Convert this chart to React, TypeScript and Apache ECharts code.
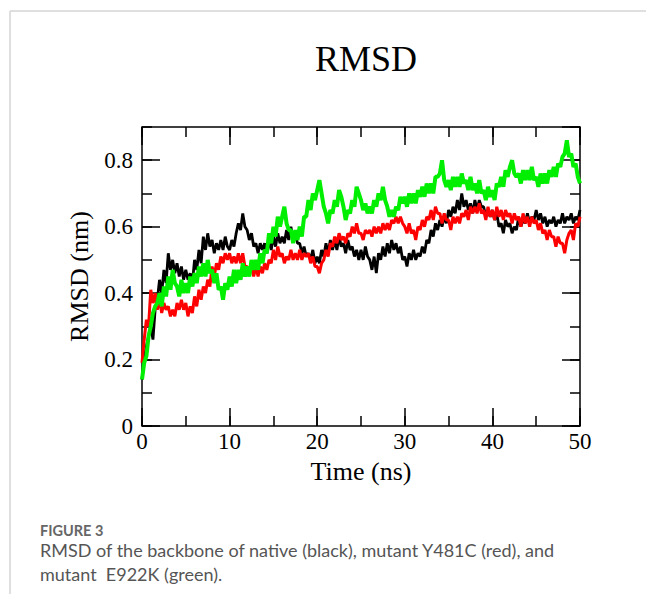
import React, { useEffect, useRef } from "react";
import * as echarts from "echarts";

// Time step between samples (ns)
const STEP = 0.25;

const xTicks = [0, 10, 20, 30, 40, 50];
const yTicks = [0, 0.2, 0.4, 0.6, 0.8];

// RMSD (nm) of native (black)
const nativeRmsd = [
  0.14, 0.20, 0.24, 0.27, 0.30, 0.26, 0.35, 0.38, 0.44, 0.40, 0.47, 0.43,
  0.52, 0.47, 0.50, 0.46, 0.49, 0.45, 0.48, 0.44, 0.47, 0.44, 0.46, 0.43,
  0.50, 0.47, 0.53, 0.49, 0.57, 0.53, 0.58, 0.54, 0.56, 0.52, 0.55, 0.53,
  0.56, 0.53, 0.57, 0.54, 0.53, 0.56, 0.54, 0.58, 0.61, 0.59, 0.64, 0.60,
  0.59, 0.56, 0.58, 0.54, 0.55, 0.52, 0.55, 0.53, 0.55, 0.52, 0.56, 0.53,
  0.57, 0.54, 0.58, 0.55, 0.57, 0.55, 0.59, 0.56, 0.60, 0.56, 0.58, 0.55,
  0.55, 0.52, 0.54, 0.51, 0.52, 0.50, 0.53, 0.49, 0.51, 0.49, 0.53, 0.51,
  0.55, 0.52, 0.56, 0.53, 0.56, 0.53, 0.57, 0.54, 0.55, 0.52, 0.56, 0.53,
  0.54, 0.51, 0.53, 0.50, 0.53, 0.50, 0.54, 0.51, 0.50, 0.47, 0.51, 0.46,
  0.52, 0.50, 0.54, 0.51, 0.55, 0.52, 0.56, 0.53, 0.55, 0.52, 0.54, 0.50,
  0.51, 0.48, 0.52, 0.50, 0.53, 0.50, 0.52, 0.51, 0.54, 0.52, 0.56, 0.55,
  0.59, 0.57, 0.61, 0.59, 0.62, 0.60, 0.63, 0.61, 0.65, 0.63, 0.66, 0.64,
  0.68, 0.65, 0.70, 0.66, 0.68, 0.65, 0.67, 0.64, 0.68, 0.65, 0.68, 0.66,
  0.66, 0.63, 0.65, 0.63, 0.65, 0.62, 0.64, 0.60, 0.61, 0.58, 0.62, 0.60,
  0.61, 0.58, 0.60, 0.59, 0.63, 0.60, 0.62, 0.61, 0.64, 0.61, 0.63, 0.62,
  0.65, 0.62, 0.64, 0.61, 0.63, 0.60, 0.62, 0.61, 0.63, 0.60, 0.62, 0.61,
  0.64, 0.61, 0.63, 0.62, 0.64, 0.61, 0.63, 0.62, 0.65,
];

// RMSD (nm) of mutant Y481C (red)
const y481cRmsd = [
  0.19, 0.26, 0.32, 0.30, 0.41, 0.37, 0.40, 0.35, 0.38, 0.34, 0.37, 0.35,
  0.36, 0.33, 0.35, 0.33, 0.37, 0.35, 0.38, 0.35, 0.37, 0.33, 0.36, 0.34,
  0.39, 0.36, 0.41, 0.38, 0.42, 0.40, 0.44, 0.42, 0.48, 0.45, 0.49, 0.47,
  0.51, 0.49, 0.52, 0.50, 0.52, 0.49, 0.51, 0.49, 0.52, 0.49, 0.52, 0.48,
  0.48, 0.46, 0.48, 0.45, 0.48, 0.45, 0.48, 0.46, 0.49, 0.47, 0.50, 0.49,
  0.53, 0.50, 0.54, 0.51, 0.52, 0.49, 0.51, 0.50, 0.53, 0.50, 0.52, 0.50,
  0.53, 0.50, 0.52, 0.51, 0.52, 0.49, 0.51, 0.48, 0.48, 0.46, 0.49, 0.50,
  0.53, 0.51, 0.55, 0.54, 0.57, 0.55, 0.58, 0.56, 0.57, 0.55, 0.58, 0.57,
  0.60, 0.58, 0.61, 0.58, 0.58, 0.56, 0.59, 0.58, 0.59, 0.57, 0.60, 0.58,
  0.60, 0.58, 0.61, 0.59, 0.61, 0.59, 0.62, 0.61, 0.63, 0.61, 0.63, 0.61,
  0.60, 0.58, 0.61, 0.58, 0.59, 0.56, 0.60, 0.59, 0.62, 0.60, 0.63, 0.62,
  0.65, 0.62, 0.66, 0.64, 0.64, 0.61, 0.64, 0.62, 0.62, 0.59, 0.63, 0.61,
  0.63, 0.61, 0.64, 0.63, 0.65, 0.62, 0.66, 0.64, 0.66, 0.64, 0.67, 0.64,
  0.65, 0.62, 0.66, 0.63, 0.65, 0.62, 0.66, 0.63, 0.65, 0.62, 0.65, 0.63,
  0.64, 0.61, 0.64, 0.62, 0.63, 0.60, 0.64, 0.61, 0.63, 0.60, 0.63, 0.61,
  0.62, 0.59, 0.61, 0.58, 0.59, 0.56, 0.59, 0.57, 0.57, 0.54, 0.57, 0.55,
  0.55, 0.52, 0.56, 0.58, 0.59, 0.56, 0.61, 0.60, 0.63,
];

// RMSD (nm) of mutant E922K (green)
const e922kRmsd = [
  0.14, 0.19, 0.21, 0.27, 0.30, 0.34, 0.36, 0.37, 0.40, 0.36, 0.42, 0.39,
  0.45, 0.41, 0.47, 0.43, 0.42, 0.39, 0.44, 0.40, 0.43, 0.40, 0.45, 0.42,
  0.46, 0.43, 0.48, 0.45, 0.49, 0.45, 0.50, 0.46, 0.47, 0.43, 0.46, 0.41,
  0.42, 0.38, 0.43, 0.41, 0.45, 0.42, 0.47, 0.43, 0.47, 0.44, 0.49, 0.45,
  0.48, 0.45, 0.50, 0.47, 0.50, 0.47, 0.52, 0.49, 0.53, 0.52, 0.58, 0.55,
  0.60, 0.57, 0.63, 0.60, 0.63, 0.66, 0.61, 0.59, 0.59, 0.55, 0.59, 0.56,
  0.60, 0.57, 0.63, 0.63, 0.68, 0.65, 0.70, 0.68, 0.71, 0.74, 0.70, 0.66,
  0.64, 0.61, 0.65, 0.64, 0.68, 0.66, 0.71, 0.69, 0.66, 0.62, 0.65, 0.64,
  0.68, 0.66, 0.72, 0.70, 0.68, 0.65, 0.67, 0.64, 0.66, 0.64, 0.68, 0.66,
  0.70, 0.68, 0.72, 0.68, 0.66, 0.63, 0.65, 0.63, 0.66, 0.65, 0.69, 0.67,
  0.69, 0.66, 0.70, 0.67, 0.70, 0.67, 0.71, 0.69, 0.72, 0.69, 0.73, 0.70,
  0.73, 0.70, 0.75, 0.75, 0.76, 0.80, 0.74, 0.72, 0.74, 0.71, 0.75, 0.72,
  0.75, 0.72, 0.76, 0.73, 0.74, 0.71, 0.75, 0.71, 0.73, 0.70, 0.74, 0.70,
  0.71, 0.68, 0.72, 0.69, 0.71, 0.68, 0.73, 0.72, 0.75, 0.72, 0.77, 0.75,
  0.78, 0.80, 0.76, 0.75, 0.76, 0.73, 0.77, 0.74, 0.77, 0.74, 0.78, 0.74,
  0.75, 0.72, 0.76, 0.73, 0.76, 0.73, 0.77, 0.75, 0.78, 0.75, 0.79, 0.78,
  0.81, 0.82, 0.86, 0.81, 0.82, 0.78, 0.79, 0.75, 0.73,
];

const seriesNames = ["native", "Y481C", "E922K"];
const seriesColors = ["#000000", "#ff0000", "#00ee00"];
const seriesWidths = [2.8, 3, 4];

const SERIF = "'Liberation Serif', 'DejaVu Serif', serif";
const SANS = "Lato, 'Open Sans', sans-serif";

export default function App() {
  const ref = useRef<HTMLDivElement>(null);

  useEffect(() => {
    if (!ref.current) return;
    const chart = echarts.init(ref.current, null, { renderer: "svg" });
    const toPts = (arr: number[]) => arr.map((v, i) => [i * STEP, v]);
    const allData = [nativeRmsd, y481cRmsd, e922kRmsd];

    const baseX = {
      type: "value",
      min: xTicks[0],
      max: xTicks[xTicks.length - 1],
      axisLine: { show: false, onZero: false },
      splitLine: { show: false },
    };
    const baseY = {
      type: "value",
      min: 0,
      max: 0.9,
      axisLine: { show: false, onZero: false },
      splitLine: { show: false },
    };
    const tickStyle = { color: "#000", width: 1.5 };

    chart.setOption({
      animation: false,
      backgroundColor: "#fff",
      title: {
        text: "RMSD",
        left: 361,
        top: 36,
        textAlign: "center",
        textStyle: {
          fontFamily: SERIF,
          fontSize: 36,
          fontWeight: "normal",
          color: "#000",
        },
      },
      grid: {
        left: 142,
        right: 66,
        top: 127,
        bottom: 168,
        show: true,
        borderColor: "#000",
        borderWidth: 1.5,
        backgroundColor: "transparent",
      },
      xAxis: [
        {
          ...baseX,
          position: "bottom",
          interval: 10,
          axisTick: { inside: true, length: 18, lineStyle: tickStyle },
          axisLabel: {
            margin: 4,
            fontFamily: SERIF,
            fontSize: 23,
            color: "#000",
          },
          name: "Time (ns)",
          nameLocation: "middle",
          nameGap: 32,
          nameTextStyle: { fontFamily: SERIF, fontSize: 26, color: "#000" },
        },
        {
          ...baseX,
          position: "bottom",
          interval: 5,
          axisTick: { inside: true, length: 10, lineStyle: tickStyle },
          axisLabel: { show: false },
        },
        {
          ...baseX,
          position: "top",
          interval: 10,
          axisTick: { inside: true, length: 18, lineStyle: tickStyle },
          axisLabel: { show: false },
        },
        {
          ...baseX,
          position: "top",
          interval: 5,
          axisTick: { inside: true, length: 10, lineStyle: tickStyle },
          axisLabel: { show: false },
        },
      ],
      yAxis: [
        {
          ...baseY,
          position: "left",
          interval: yTicks[1] - yTicks[0],
          axisTick: { inside: true, length: 18, lineStyle: tickStyle },
          axisLabel: {
            margin: 9,
            showMaxLabel: false,
            fontFamily: SERIF,
            fontSize: 23,
            color: "#000",
            formatter: (v: number) => (v === 0 ? "0" : v.toFixed(1)),
          },
          name: "RMSD (nm)",
          nameLocation: "middle",
          nameGap: 50,
          nameTextStyle: { fontFamily: SERIF, fontSize: 26, color: "#000" },
        },
        {
          ...baseY,
          position: "left",
          interval: 0.1,
          axisTick: { inside: true, length: 10, lineStyle: tickStyle },
          axisLabel: { show: false },
        },
        {
          ...baseY,
          position: "right",
          interval: 0.2,
          axisTick: { inside: true, length: 18, lineStyle: tickStyle },
          axisLabel: { show: false },
        },
        {
          ...baseY,
          position: "right",
          interval: 0.1,
          axisTick: { inside: true, length: 10, lineStyle: tickStyle },
          axisLabel: { show: false },
        },
      ],
      series: allData.map((d, k) => ({
        name: seriesNames[k],
        type: "line",
        xAxisIndex: 0,
        yAxisIndex: 0,
        data: toPts(d),
        showSymbol: false,
        symbol: "none",
        lineStyle: { color: seriesColors[k], width: seriesWidths[k], join: "bevel" },
        itemStyle: { color: seriesColors[k] },
        z: 2 + k,
      })),
      graphic: [
        {
          type: "line",
          shape: { x1: 10, y1: 11, x2: 646, y2: 11 },
          style: { stroke: "#d4d4d4", lineWidth: 1.5 },
        },
        {
          type: "line",
          shape: { x1: 10, y1: 11, x2: 10, y2: 594 },
          style: { stroke: "#d4d4d4", lineWidth: 1.5 },
        },
        {
          type: "text",
          x: 40,
          y: 523,
          style: {
            text: "FIGURE 3",
            fontFamily: SANS,
            fontSize: 14.5,
            lineHeight: 15,
            fontWeight: "bold",
            fill: "#666",
          },
        },
        {
          type: "text",
          x: 40,
          y: 540,
          style: {
            text: "RMSD of the backbone of native (black), mutant Y481C (red), and",
            fontFamily: SANS,
            fontSize: 18,
            lineHeight: 20,
            fill: "#555",
          },
        },
        {
          type: "text",
          x: 40,
          y: 564,
          style: {
            text: "mutant  E922K (green).",
            fontFamily: SANS,
            fontSize: 18,
            lineHeight: 20,
            fill: "#555",
          },
        },
      ],
    });
    return () => chart.dispose();
  }, []);

  return (
    <div
      ref={ref}
      style={{ position: "fixed", left: 0, top: 0, width: 646, height: 594, background: "#fff" }}
    />
  );
}
